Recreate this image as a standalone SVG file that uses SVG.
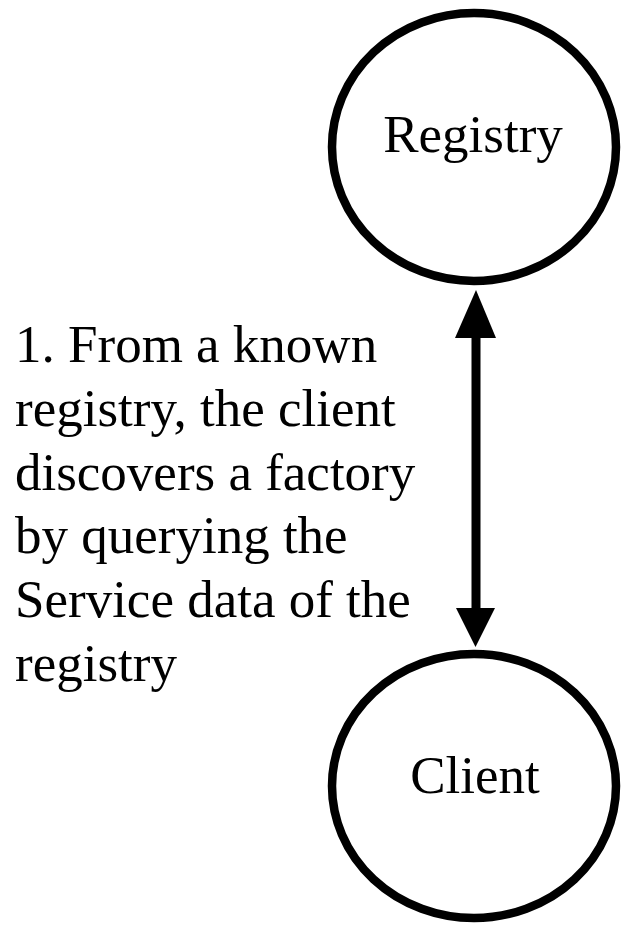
<svg xmlns="http://www.w3.org/2000/svg" width="621" height="925" viewBox="0 0 621 925">
<style>
.node { fill: #ffffff; stroke: #000000; stroke-width: 8.5; }
.lbl { font-family: "Liberation Serif", "Times New Roman", serif; font-size: 53px; fill: #000000; }
.edge { stroke: #000000; stroke-width: 9; fill: none; }
.head { fill: #000000; stroke: none; }
</style>
<rect width="621" height="925" fill="#ffffff"/>
<g id="registry">
<ellipse class="node" cx="474" cy="147" rx="142" ry="134"/>
<text class="lbl" x="473" y="152" text-anchor="middle">Registry</text>
</g>
<g id="client">
<ellipse class="node" cx="474" cy="786" rx="142" ry="132"/>
<text class="lbl" x="475" y="793" text-anchor="middle">Client</text>
</g>
<g id="connectors">
<line class="edge" x1="476" y1="336" x2="476" y2="610"/>
<polygon class="head" points="476,290 496,338 455,338"/>
<polygon class="head" points="475.5,647 495,608 456,608"/>
</g>
<g id="label">
<text class="lbl" x="15" y="362">1. From a known</text>
<text class="lbl" x="15" y="426">registry, the client</text>
<text class="lbl" x="15" y="490">discovers a factory</text>
<text class="lbl" x="15" y="553">by querying the</text>
<text class="lbl" x="15" y="617">Service data of the</text>
<text class="lbl" x="15" y="681">registry</text>
</g>
</svg>
